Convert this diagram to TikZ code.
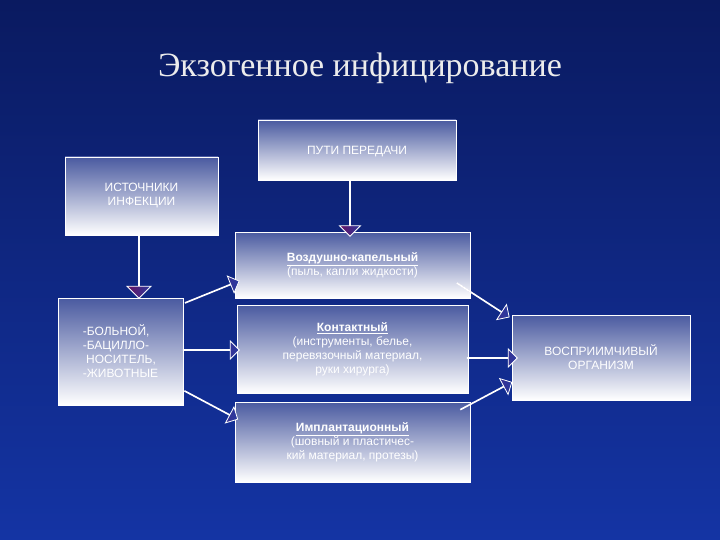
\documentclass[tikz,border=0pt]{standalone}
\usepackage{fontspec}
\setmainfont{Liberation Sans}
\newfontfamily\titlefont{Liberation Serif}
\usetikzlibrary{shapes.arrows,shadings}
\definecolor{navy}{HTML}{0A1A60}
\definecolor{bluebg}{HTML}{1434A4}
\definecolor{boxtop}{HTML}{4A5AA0}
\definecolor{arrpurple}{HTML}{6A1060}
\definecolor{arrblue}{HTML}{2A3AA0}
\tikzset{
  box/.style={draw=white, line width=0.8pt, top color=boxtop, bottom color=white, text=white, align=center, inner sep=2pt, font=\fontsize{12}{14}\selectfont},
  barrow/.style={single arrow, draw=white, line width=0.8pt, left color=arrpurple, right color=arrblue, single arrow head extend=8pt, inner sep=0pt},
}
\begin{document}
\begin{tikzpicture}[x=1pt,y=-1pt]
\shade[top color=navy, bottom color=bluebg] (0,0) rectangle (720,540);
\useasboundingbox (0,0) rectangle (720,540);
\node[text=white!85!gray, font=\titlefont\fontsize{34}{40}\selectfont] (title) at (360,68) {Экзогенное инфицирование};

\node[box, minimum width=198pt, minimum height=60pt, text depth=0pt] (puti) at (357,150) {ПУТИ ПЕРЕДАЧИ};
\node[box, minimum width=153pt, minimum height=78pt] (ist) at (141.5,196) {ИСТОЧНИКИ\\ИНФЕКЦИИ};
\node[box, minimum width=125pt, minimum height=107pt, align=left] (src) at (120.5,351.5) {-БОЛЬНОЙ,\\-БАЦИЛЛО-\\\ НОСИТЕЛЬ,\\-ЖИВОТНЫЕ};
\node[box, minimum width=235pt, minimum height=66pt] (air) at (352.5,265) {\textbf{\underline{Воздушно-капельный}}\\(пыль, капли жидкости)};
\node[box, minimum width=231pt, minimum height=88pt] (cont) at (352.5,349) {\textbf{\underline{Контактный}}\\(инструменты, белье,\\перевязочный материал,\\руки хирурга)};
\node[box, minimum width=235pt, minimum height=80pt] (impl) at (352.5,442) {\textbf{\underline{Имплантационный}}\\(шовный и пластичес-\\кий материал, протезы)};
\node[box, minimum width=178pt, minimum height=85pt] (org) at (601,357.5) {ВОСПРИИМЧИВЫЙ\\ОРГАНИЗМ};

% vertical arrows
\node[barrow, minimum height=62pt, minimum width=24pt, single arrow head extend=11pt, rotate=-90, top color=arrpurple, bottom color=arrblue, left color=arrpurple, right color=arrblue] (a1) at (139,267) {};
\node[barrow, minimum height=56pt, minimum width=20pt, single arrow head extend=10pt, rotate=-90] (a2) at (350,208) {};
% left to middle
\node[barrow, minimum height=58pt, minimum width=18pt, rotate=22] (a3) at (212,292) {};
\node[barrow, minimum height=56pt, minimum width=18pt] (a4) at (211,350) {};
\node[barrow, minimum height=60pt, minimum width=18pt, rotate=-28] (a5) at (211,405) {};
% middle to right
\node[barrow, minimum height=62pt, minimum width=18pt, rotate=-33] (a6) at (483,300) {};
\node[barrow, minimum height=50pt, minimum width=18pt] (a7) at (492,358) {};
\node[barrow, minimum height=58pt, minimum width=18pt, rotate=28] (a8) at (486,396) {};
\end{tikzpicture}
\end{document}
